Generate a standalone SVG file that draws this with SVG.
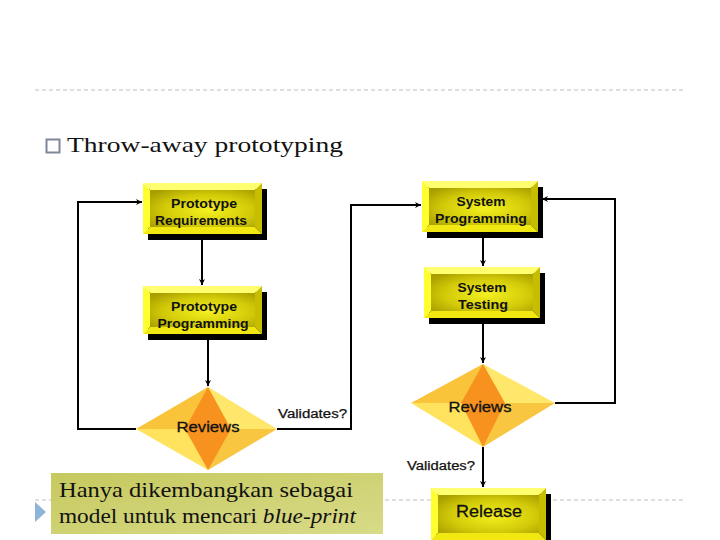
<svg xmlns="http://www.w3.org/2000/svg" width="720" height="540" viewBox="0 0 720 540">
<style>
.conn{fill:none;stroke:#000;stroke-width:2;}
.btxt{font-family:"Liberation Sans",Arial,sans-serif;font-weight:bold;font-size:12.5px;fill:#111;text-anchor:middle;}
.rtxt{font-family:"Liberation Sans",Arial,sans-serif;font-size:14px;fill:#111;text-anchor:middle;stroke:#111;stroke-width:0.3;}
.vtxt{font-family:"Liberation Sans",Arial,sans-serif;font-size:12px;fill:#111;stroke:#111;stroke-width:0.25;}
.serif{font-family:"Liberation Serif","Times New Roman",serif;fill:#111;}
.dash{stroke:#bdbdbd;stroke-width:1;stroke-dasharray:4 3;fill:none;}
</style>
<defs>
<marker id="arr" viewBox="0 0 10 10" refX="10" refY="5" markerWidth="6" markerHeight="6" markerUnits="userSpaceOnUse" orient="auto">
<path d="M0,0 L10,5 L0,10 L3,5 z" fill="#000"/>
</marker>
<radialGradient id="face" cx="0.55" cy="0.55" r="0.7">
<stop offset="0" stop-color="#F4F020"/>
<stop offset="0.6" stop-color="#D2CA08"/>
<stop offset="1" stop-color="#A89E00"/>
</radialGradient>
<linearGradient id="note" x1="0" y1="0" x2="1" y2="1">
<stop offset="0" stop-color="#C6C95E"/>
<stop offset="1" stop-color="#D8DB88"/>
</linearGradient>
</defs>

<line class="dash" x1="35" y1="90" x2="686" y2="90"/>
<line class="dash" x1="35" y1="500" x2="686" y2="500"/>

<g id="title">
<rect x="46.5" y="139.5" width="13" height="13" fill="none" stroke="#7F8699" stroke-width="2"/>
<text class="serif" x="67" y="152" font-size="21" textLength="276" lengthAdjust="spacingAndGlyphs">Throw-away prototyping</text>
</g>

<g id="connectors">
<polyline class="conn" points="136,429 78,429 78,202 142,202" marker-end="url(#arr)"/>
<line class="conn" x1="202" y1="239" x2="202" y2="285" marker-end="url(#arr)"/>
<line class="conn" x1="208" y1="340" x2="208" y2="386" marker-end="url(#arr)"/>
<polyline class="conn" points="277,429 351,429 351,205 421,205" marker-end="url(#arr)"/>
<line class="conn" x1="483" y1="237" x2="483" y2="266" marker-end="url(#arr)"/>
<line class="conn" x1="483" y1="322" x2="483" y2="363" marker-end="url(#arr)"/>
<polyline class="conn" points="555,403 615,403 615,199 542,199" marker-end="url(#arr)"/>
<line class="conn" x1="483" y1="447" x2="483" y2="487" marker-end="url(#arr)"/>
</g>

<g id="proto-req">
<rect x="148" y="189" width="119" height="51" fill="#000"/>
<polygon points="143,183 262,183 255,190 150,190" fill="#FFFF70"/>
<polygon points="143,183 150,190 150,227 143,234" fill="#FFFF30"/>
<polygon points="262,183 262,234 255,227 255,190" fill="#C8BE00"/>
<polygon points="143,234 262,234 255,227 150,227" fill="#F0E810"/>
<rect x="150" y="190" width="105" height="37" fill="url(#face)"/>
<text class="btxt" x="204" y="208" textLength="66" lengthAdjust="spacingAndGlyphs">Prototype</text>
<text class="btxt" x="201" y="225" textLength="92" lengthAdjust="spacingAndGlyphs">Requirements</text>
</g>

<g id="sys-prog">
<rect x="427" y="187" width="116" height="51" fill="#000"/>
<polygon points="422,181 538,181 531,188 429,188" fill="#FFFF70"/>
<polygon points="422,181 429,188 429,225 422,232" fill="#FFFF30"/>
<polygon points="538,181 538,232 531,225 531,188" fill="#C8BE00"/>
<polygon points="422,232 538,232 531,225 429,225" fill="#F0E810"/>
<rect x="429" y="188" width="102" height="37" fill="url(#face)"/>
<text class="btxt" x="481" y="206" textLength="49" lengthAdjust="spacingAndGlyphs">System</text>
<text class="btxt" x="481" y="223" textLength="92" lengthAdjust="spacingAndGlyphs">Programming</text>
</g>

<g id="proto-prog">
<rect x="148" y="292" width="119" height="48" fill="#000"/>
<polygon points="143,286 262,286 255,293 150,293" fill="#FFFF70"/>
<polygon points="143,286 150,293 150,327 143,334" fill="#FFFF30"/>
<polygon points="262,286 262,334 255,327 255,293" fill="#C8BE00"/>
<polygon points="143,334 262,334 255,327 150,327" fill="#F0E810"/>
<rect x="150" y="293" width="105" height="34" fill="url(#face)"/>
<text class="btxt" x="204" y="311" textLength="66" lengthAdjust="spacingAndGlyphs">Prototype</text>
<text class="btxt" x="203" y="328" textLength="91" lengthAdjust="spacingAndGlyphs">Programming</text>
</g>

<g id="sys-test">
<rect x="429" y="273" width="116" height="51" fill="#000"/>
<polygon points="424,267 540,267 533,274 431,274" fill="#FFFF70"/>
<polygon points="424,267 431,274 431,311 424,318" fill="#FFFF30"/>
<polygon points="540,267 540,318 533,311 533,274" fill="#C8BE00"/>
<polygon points="424,318 540,318 533,311 431,311" fill="#F0E810"/>
<rect x="431" y="274" width="102" height="37" fill="url(#face)"/>
<text class="btxt" x="482" y="292" textLength="49" lengthAdjust="spacingAndGlyphs">System</text>
<text class="btxt" x="483" y="309" textLength="50" lengthAdjust="spacingAndGlyphs">Testing</text>
</g>

<g id="reviews-1">
<polygon points="136,429 208,387 208,429" fill="#F9C43A"/>
<polygon points="208,387 277,429 208,429" fill="#FFE76C"/>
<polygon points="136,429 208,470 208,429" fill="#FFE35E"/>
<polygon points="208,470 277,429 208,429" fill="#F8C640"/>
<polygon points="208,387 231,429 208,470 185,429" fill="#F7921E"/>
<text class="rtxt" x="208" y="432" textLength="63" lengthAdjust="spacingAndGlyphs">Reviews</text>
</g>
<text class="vtxt" x="278" y="418" textLength="69" lengthAdjust="spacingAndGlyphs">Validates?</text>

<g id="reviews-2">
<polygon points="411,403 483,364 483,403" fill="#F9C43A"/>
<polygon points="483,364 555,403 483,403" fill="#FFE76C"/>
<polygon points="411,403 483,447 483,403" fill="#FFE35E"/>
<polygon points="483,447 555,403 483,403" fill="#F8C640"/>
<polygon points="483,364 505,403 483,447 461,403" fill="#F7921E"/>
<text class="rtxt" x="480" y="412" textLength="63" lengthAdjust="spacingAndGlyphs">Reviews</text>
</g>
<text class="vtxt" x="407" y="470" textLength="68" lengthAdjust="spacingAndGlyphs">Validates?</text>

<g id="release">
<rect x="436" y="494" width="115" height="52" fill="#000"/>
<polygon points="431,488 546,488 539,495 438,495" fill="#FFFF70"/>
<polygon points="431,488 438,495 438,533 431,540" fill="#FFFF30"/>
<polygon points="546,488 546,540 539,533 539,495" fill="#C8BE00"/>
<polygon points="431,540 546,540 539,533 438,533" fill="#F0E810"/>
<rect x="438" y="495" width="101" height="38" fill="url(#face)"/>
<text class="rtxt" x="489" y="517" style="font-size:16px" textLength="66" lengthAdjust="spacingAndGlyphs">Release</text>
</g>

<g id="note">
<polygon points="35,502 46,512 35,522" fill="#8FB4D9"/>
<rect x="51" y="473" width="332" height="61" fill="url(#note)"/>
<text class="serif" x="59" y="497" font-size="21" textLength="294" lengthAdjust="spacingAndGlyphs">Hanya dikembangkan sebagai</text>
<text class="serif" x="59" y="523" font-size="21" textLength="297" lengthAdjust="spacingAndGlyphs">model untuk mencari <tspan font-style="italic">blue-print</tspan></text>
</g>
</svg>
